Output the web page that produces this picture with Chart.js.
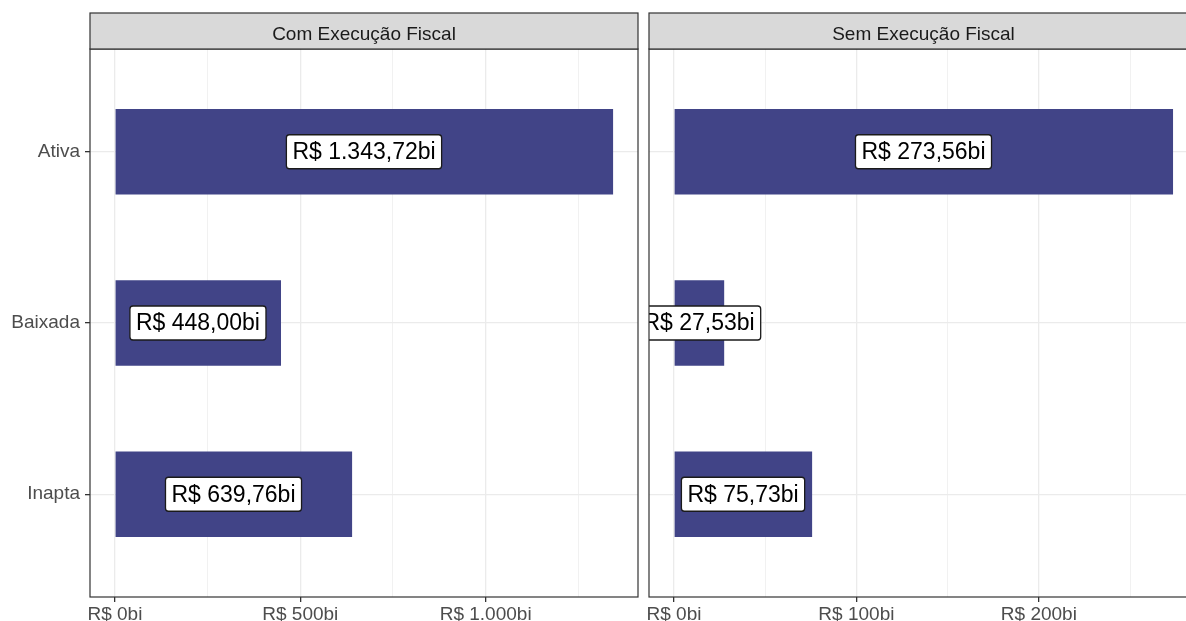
<!DOCTYPE html>
<html lang="pt-BR">
<head>
<meta charset="utf-8">
<script src="https://cdn.jsdelivr.net/npm/chart.js@4"></script>
<style>
  html, body { margin: 0; padding: 0; background: #fff; overflow: hidden; }
  #wrap { position: relative; width: 1186px; height: 621px; overflow: hidden; }
  .panel { position: absolute; top: 0; height: 621px; }
  #panel-com { left: 0; width: 645px; }
  #panel-sem { left: 640px; width: 565px; }
</style>
</head>
<body>
<div id="wrap">
  <div class="panel" id="panel-com"><canvas id="chartCom"></canvas></div>
  <div class="panel" id="panel-sem"><canvas id="chartSem"></canvas></div>
</div>
<script>
const categories = ['Ativa', 'Baixada', 'Inapta'];
const panelTitles = ['Com Execução Fiscal', 'Sem Execução Fiscal'];

const valuesCom = [1343.72, 448.00, 639.76];
const valuesSem = [273.56, 27.53, 75.73];
const labelsCom = ['R$ 1.343,72bi', 'R$ 448,00bi', 'R$ 639,76bi'];
const labelsSem = ['R$ 273,56bi', 'R$ 27,53bi', 'R$ 75,73bi'];

const ticksCom = [0, 500, 1000];
const tickLabelsCom = ['R$ 0bi', 'R$ 500bi', 'R$ 1.000bi'];
const minorTicksCom = [250, 750, 1250];
const ticksSem = [0, 100, 200];
const tickLabelsSem = ['R$ 0bi', 'R$ 100bi', 'R$ 200bi'];
const minorTicksSem = [50, 150, 250];

const FONT = '"Liberation Sans", Arial, sans-serif';
const BAR_COLOR = '#414487';

// strip on top, labels inside the bars, border round the panel
const facetPlugin = {
    id: 'facet',
    afterDatasetsDraw(chart, args, opts) {
        const ctx = chart.ctx;
        const area = chart.chartArea;
        const meta = chart.getDatasetMeta(0);
        ctx.save();
        ctx.beginPath();
        ctx.rect(area.left, area.top, area.right - area.left, area.bottom - area.top);
        ctx.clip();
        ctx.font = '23px ' + FONT;
        ctx.textAlign = 'center';
        ctx.textBaseline = 'middle';
        meta.data.forEach((bar, i) => {
            const text = opts.labels[i];
            const x = chart.scales.x.getPixelForValue(opts.values[i] / 2);
            const y = bar.y;
            const w = ctx.measureText(text).width + 12;
            const h = 34;
            ctx.beginPath();
            ctx.roundRect(x - w / 2, y - h / 2, w, h, 3);
            ctx.fillStyle = '#ffffff';
            ctx.fill();
            ctx.lineWidth = 1.3;
            ctx.strokeStyle = '#1a1a1a';
            ctx.stroke();
            ctx.fillStyle = '#000000';
            ctx.fillText(text, x, y + 1);
        });
        ctx.restore();
    },
    afterDraw(chart, args, opts) {
        const ctx = chart.ctx;
        const area = chart.chartArea;
        ctx.save();
        ctx.lineWidth = 1.2;
        ctx.strokeStyle = '#333333';
        ctx.strokeRect(area.left, area.top, area.right - area.left, area.bottom - area.top);
        ctx.fillStyle = '#d9d9d9';
        ctx.fillRect(area.left, 13, area.right - area.left, area.top - 13);
        ctx.strokeRect(area.left, 13, area.right - area.left, area.top - 13);
        ctx.fillStyle = '#1a1a1a';
        ctx.font = '19px ' + FONT;
        ctx.textAlign = 'center';
        ctx.textBaseline = 'alphabetic';
        ctx.fillText(opts.title, (area.left + area.right) / 2, 40);
        ctx.restore();
    }
};

function makePanel(canvasId, title, values, valueLabels, majors, majorLabels, minors, showY) {
    const top = Math.max(...values);
    const allTicks = majors.concat(minors).sort((a, b) => a - b);
    const isMajor = v => majors.includes(v);

    return new Chart(document.getElementById(canvasId).getContext('2d'), {
        type: 'bar',
        data: {
            datasets: [{
                data: values.map((v, i) => ({ x: v, y: i + 1 })),
                backgroundColor: BAR_COLOR,
                borderWidth: 0,
                categoryPercentage: 1,
                barPercentage: 0.5
            }]
        },
        options: {
            indexAxis: 'y',
            responsive: true,
            maintainAspectRatio: false,
            animation: false,
            layout: { padding: { top: 49, right: 7, bottom: 0, left: 0 } },
            plugins: {
                legend: { display: false },
                tooltip: { enabled: false },
                facet: { title: title, values: values, labels: valueLabels }
            },
            scales: {
                x: {
                    type: 'linear',
                    min: -0.05 * top,
                    max: 1.05 * top,
                    afterBuildTicks: s => { s.ticks = allTicks.map(v => ({ value: v })); },
                    afterFit: s => { s.height = 24; },
                    ticks: {
                        autoSkip: false,
                        maxRotation: 0,
                        padding: 1,
                        color: '#4d4d4d',
                        font: { family: FONT, size: 19 },
                        callback: v => isMajor(v) ? majorLabels[majors.indexOf(v)] : ''
                    },
                    grid: {
                        color: '#ebebeb',
                        lineWidth: c => (c.tick && isMajor(c.tick.value)) ? 1.3 : 0.7,
                        tickColor: c => (c.tick && isMajor(c.tick.value)) ? '#333333' : 'rgba(0,0,0,0)',
                        tickLength: 5
                    },
                    border: { display: false }
                },
                y: {
                    type: 'linear',
                    reverse: true,
                    offset: false,
                    min: 0.4,
                    max: categories.length + 0.6,
                    afterBuildTicks: s => { s.ticks = categories.map((c, i) => ({ value: i + 1 })); },
                    afterFit: s => { s.width = showY ? 90 : 9; },
                    ticks: {
                        display: showY,
                        padding: 5,
                        color: '#4d4d4d',
                        font: { family: FONT, size: 19 },
                        callback: v => categories[Math.round(v) - 1]
                    },
                    grid: {
                        offset: false,
                        color: '#ebebeb',
                        lineWidth: 1.3,
                        tickColor: '#333333',
                        drawTicks: showY,
                        tickLength: 5
                    },
                    border: { display: false }
                }
            }
        },
        plugins: [facetPlugin]
    });
}

makePanel('chartCom', panelTitles[0], valuesCom, labelsCom, ticksCom, tickLabelsCom, minorTicksCom, true);
makePanel('chartSem', panelTitles[1], valuesSem, labelsSem, ticksSem, tickLabelsSem, minorTicksSem, false);
</script>
</body>
</html>
